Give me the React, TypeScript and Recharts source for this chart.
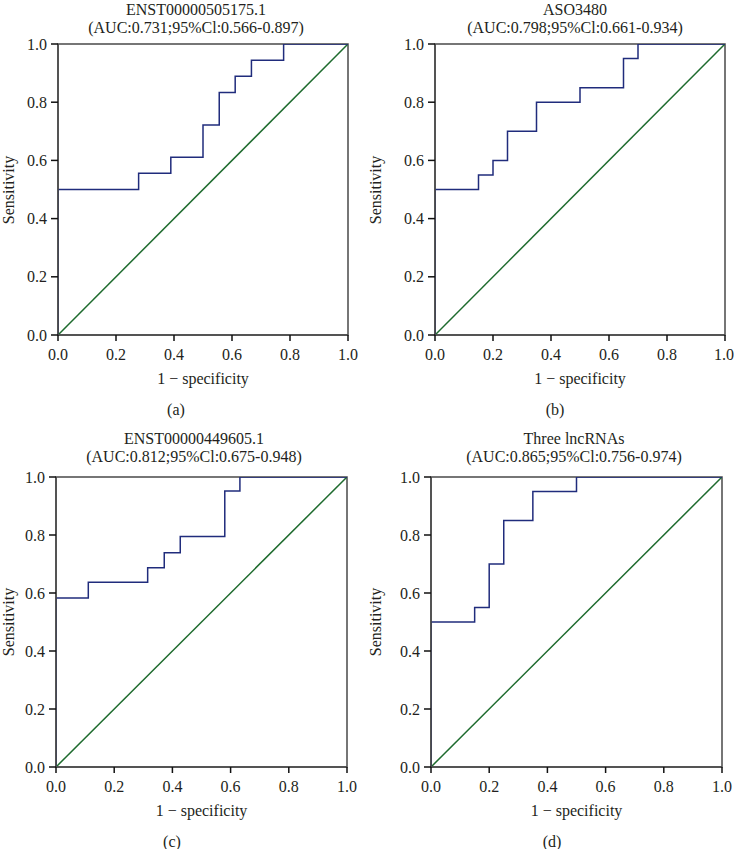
import React from "react";
import { LineChart, Line, XAxis, YAxis, ReferenceArea } from "recharts";

// ROC points (1 - specificity, sensitivity)
const fprA = [0, 0, 0.278, 0.389, 0.5, 0.556, 0.611, 0.667, 0.778, 1];
const tprA = [0, 0.5, 0.556, 0.611, 0.722, 0.833, 0.889, 0.944, 1, 1];

const fprB = [0, 0, 0.15, 0.2, 0.25, 0.35, 0.5, 0.65, 0.7, 1];
const tprB = [0, 0.5, 0.55, 0.6, 0.7, 0.8, 0.85, 0.95, 1, 1];

const fprC = [0, 0, 0.111, 0.315, 0.372, 0.427, 0.58, 0.632, 1];
const tprC = [0, 0.583, 0.637, 0.687, 0.739, 0.795, 0.952, 1, 1];

const fprD = [0, 0, 0.15, 0.2, 0.25, 0.35, 0.5, 1];
const tprD = [0, 0.5, 0.55, 0.7, 0.85, 0.95, 1, 1];

const diagX = [0, 1];
const diagY = [0, 1];

const titles = ["ENST00000505175.1", "ASO3480", "ENST00000449605.1", "Three lncRNAs"];
const aucLabels = [
  "(AUC:0.731;95%Cl:0.566-0.897)",
  "(AUC:0.798;95%Cl:0.661-0.934)",
  "(AUC:0.812;95%Cl:0.675-0.948)",
  "(AUC:0.865;95%Cl:0.756-0.974)",
];
const captions = ["(a)", "(b)", "(c)", "(d)"];
const ticks = [0, 0.2, 0.4, 0.6, 0.8, 1];

const FONT = '"Liberation Serif", "DejaVu Serif", serif';
const TEXT = "#231f20";
const AXIS = "#4a4a4a";
const ROC = "#202c7c";
const DIAG = "#1e6b2e";

const toPoints = (xs: number[], ys: number[]) => xs.map((x, i) => ({ x, y: ys[i] }));

const panels = [
  { fpr: fprA, tpr: tprA, left: 0, top: 0, h: 420, margin: { top: 44, right: 19, left: 8, bottom: 55 }, titleX: 196, capX: 176 },
  { fpr: fprB, tpr: tprB, left: 367, top: 0, h: 420, margin: { top: 44, right: 9, left: 18, bottom: 55 }, titleX: 208, capX: 188 },
  { fpr: fprC, tpr: tprC, left: 0, top: 420, h: 429, margin: { top: 57, right: 20, left: 6, bottom: 52 }, titleX: 194, capX: 172 },
  { fpr: fprD, tpr: tprD, left: 367, top: 420, h: 429, margin: { top: 57, right: 12, left: 14, bottom: 52 }, titleX: 207, capX: 185 },
];

const tickStyle = { fontSize: 16, fill: TEXT, fontFamily: FONT };

function RocPanel({ idx }: { idx: number }) {
  const p = panels[idx];
  const W = 367;
  const plotLeft = p.margin.left + 50;
  const plotRight = W - p.margin.right;
  const plotTop = p.margin.top;
  const plotBottom = p.h - p.margin.bottom - 30;
  const cx = (plotLeft + plotRight) / 2;
  const cy = (plotTop + plotBottom) / 2;
  const text: React.CSSProperties = {
    position: "absolute",
    fontFamily: FONT,
    fontSize: 16,
    lineHeight: "20px",
    color: TEXT,
    whiteSpace: "nowrap",
    transform: "translateX(-50%)",
  };
  // first title line sits right at the page top in the upper row
  const titleTop = p.top === 0 ? 3 : 12;

  return (
    <div style={{ position: "absolute", left: p.left, top: p.top, width: W, height: p.h }}>
      <div style={{ ...text, left: p.titleX, top: titleTop, lineHeight: "14px" }}>{titles[idx]}</div>
      <div style={{ ...text, left: p.titleX, top: titleTop + 15 }}>{aucLabels[idx]}</div>

      <LineChart width={W} height={p.h} margin={p.margin} style={{ overflow: "visible" }}>
        <XAxis
          type="number"
          dataKey="x"
          domain={[0, 1]}
          ticks={ticks}
          tickFormatter={(v: number) => v.toFixed(1)}
          tick={tickStyle}
          tickSize={6}
          tickMargin={8}
          height={30}
          stroke={AXIS}
          strokeWidth={1.5}
          tickLine={{ stroke: "#111" }}
          allowDataOverflow
        />
        <YAxis
          type="number"
          dataKey="y"
          domain={[0, 1]}
          ticks={ticks}
          tickFormatter={(v: number) => v.toFixed(1)}
          tick={tickStyle}
          tickSize={7}
          tickMargin={4}
          width={50}
          stroke={AXIS}
          strokeWidth={1.5}
          tickLine={{ stroke: "#111" }}
          allowDataOverflow
        />
        <ReferenceArea x1={0} x2={1} y1={0} y2={1} fill="none" fillOpacity={0} stroke={AXIS} strokeWidth={1.5} />
        <Line
          data={toPoints(diagX, diagY)}
          dataKey="y"
          type="linear"
          stroke={DIAG}
          strokeWidth={1.5}
          dot={false}
          isAnimationActive={false}
        />
        <Line
          data={toPoints(p.fpr, p.tpr)}
          dataKey="y"
          type="stepAfter"
          stroke={ROC}
          strokeWidth={1.5}
          dot={false}
          isAnimationActive={false}
        />
      </LineChart>

      <div style={{ ...text, left: cx, top: plotBottom + 34 }}>1 − specificity</div>
      <div
        style={{
          ...text,
          left: 9,
          top: cy - 10,
          transform: "translateX(-50%) rotate(-90deg)",
        }}
      >
        Sensitivity
      </div>
      <div style={{ ...text, left: p.capX, top: plotBottom + 65 }}>{captions[idx]}</div>
    </div>
  );
}

export default function App() {
  return (
    <div
      style={{
        position: "absolute",
        left: 0,
        top: 0,
        width: 734,
        height: 849,
        overflow: "hidden",
        background: "#fff",
      }}
    >
      {panels.map((_, i) => (
        <RocPanel key={i} idx={i} />
      ))}
    </div>
  );
}
